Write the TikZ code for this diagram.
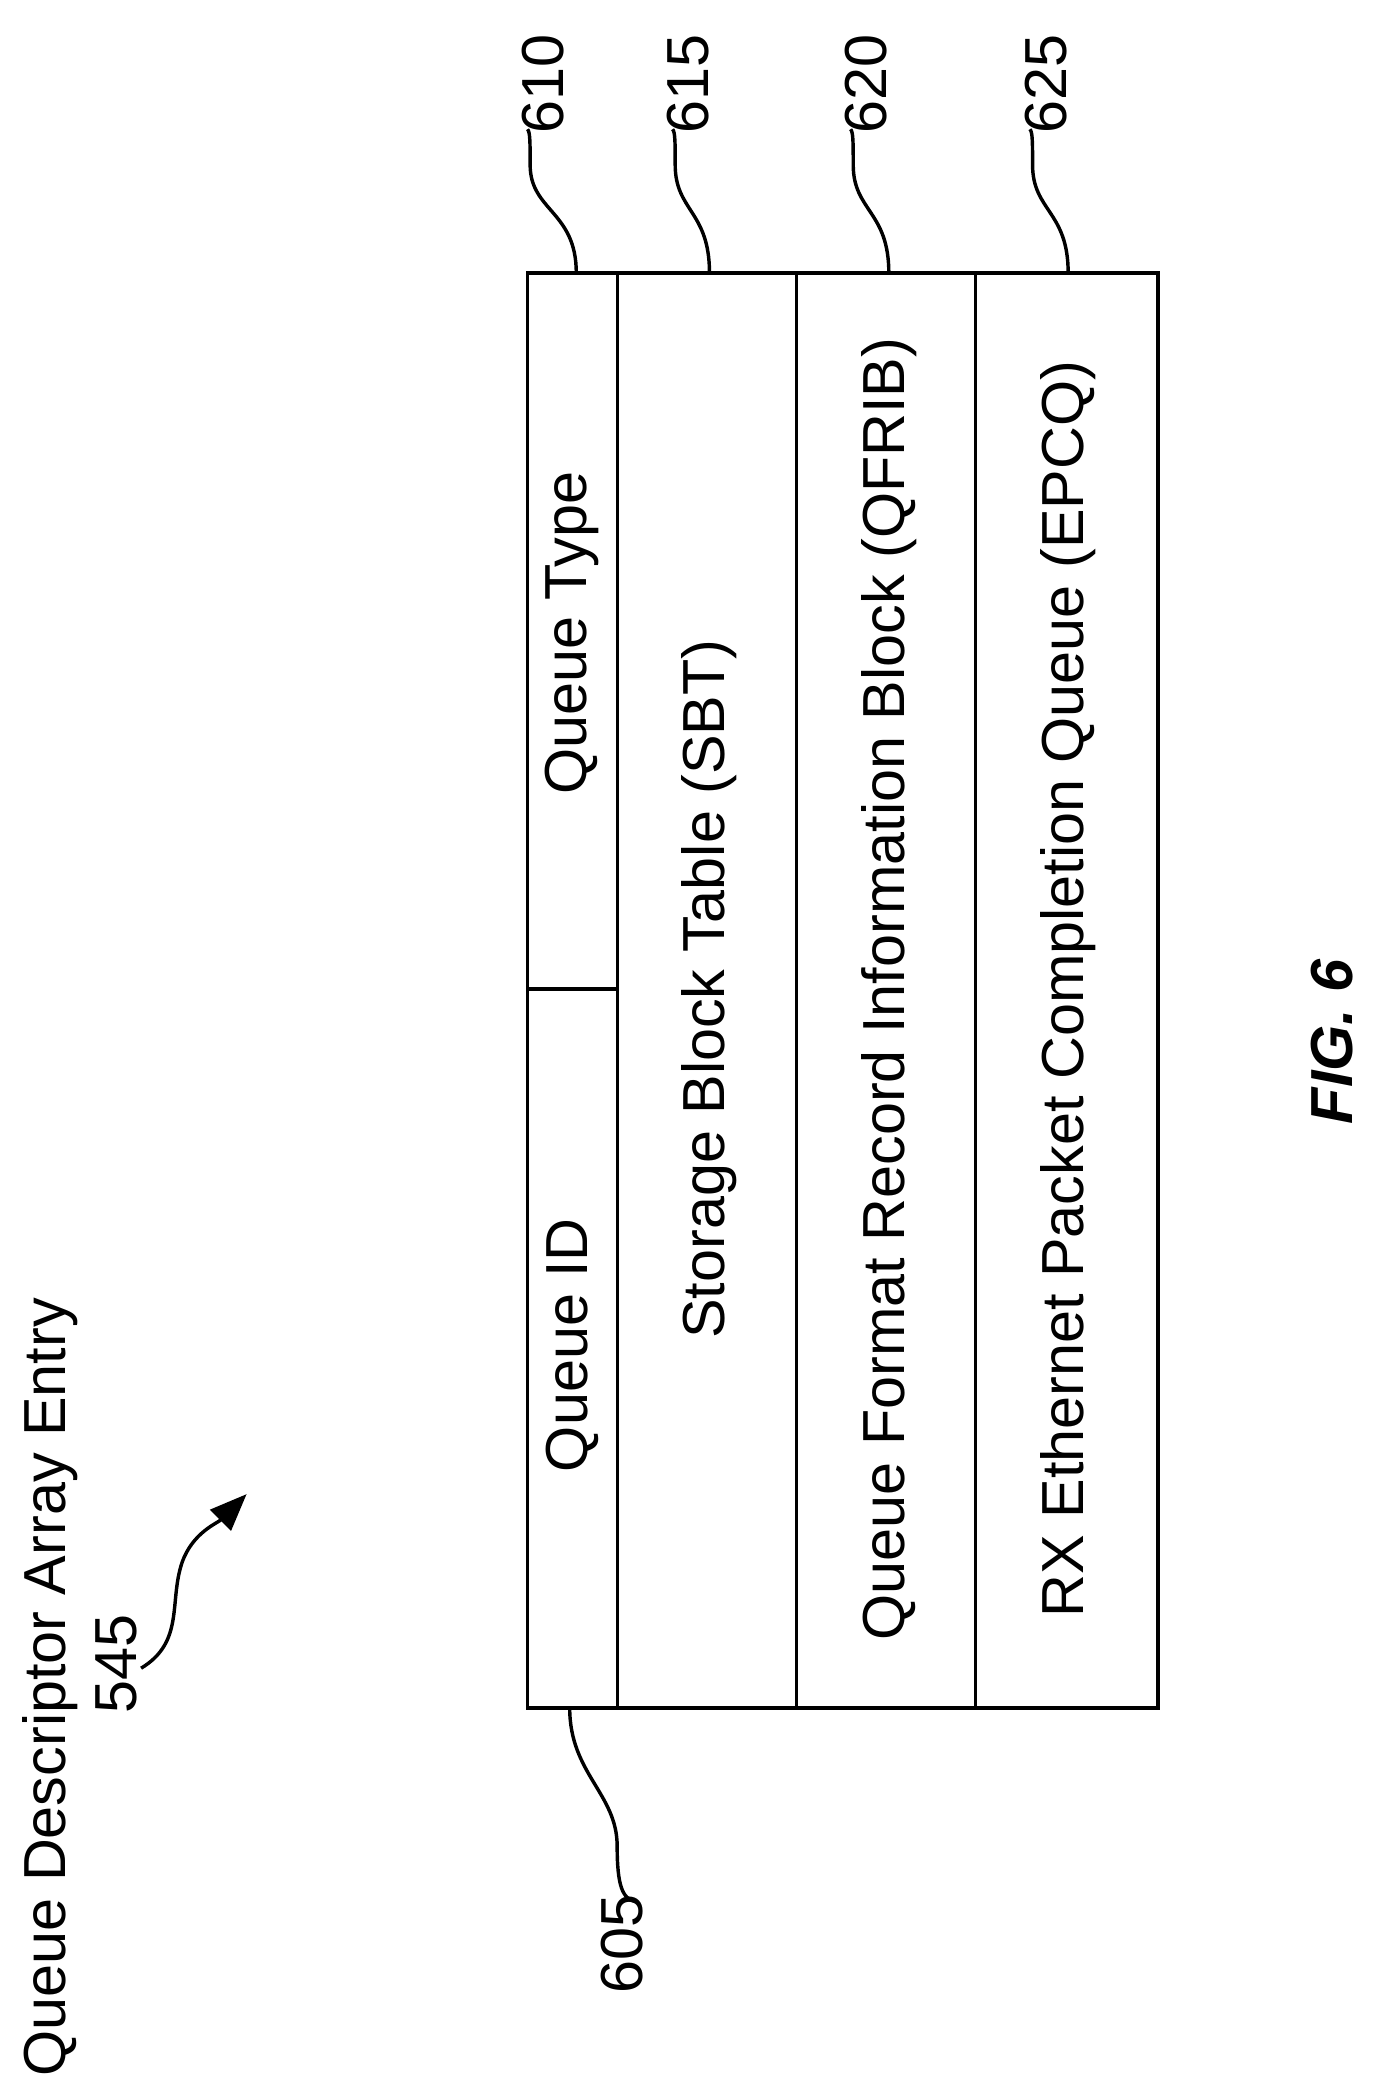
\documentclass[tikz,border=0pt]{standalone}
\usepackage{fontspec}
\setmainfont{Liberation Sans}
\usetikzlibrary{arrows.meta}
\begin{document}
\begin{tikzpicture}[x=0.5pt,y=-0.5pt,
  lbl/.style={font=\fontsize{22.5}{27}\selectfont,rotate=90,inner sep=0pt},
  lead/.style={line width=1.3pt}]
\useasboundingbox (0,0) rectangle (1045,1575);
\draw[line width=1.5pt] (400,207) rectangle (878,1295);
\draw[line width=1.2pt] (468,207) -- (468,1295) (604,207) -- (604,1295) (740,207) -- (740,1295) (400,750) -- (468,750);
\node[lbl] (qt) at (434,480) {Queue Type};
\node[lbl] (qid) at (434,1020) {Queue ID};
\node[lbl] (sbt) at (538,750) {Storage Block Table (SBT)};
\node[lbl] (qf) at (674,750) {Queue Format Record Information Block (QFRIB)};
\node[lbl] (ep) at (810,750) {RX Ethernet Packet Completion Queue (EPCQ)};
\node[lbl] (n610) at (412,64) {610};
\node[lbl] (n615) at (522,64) {615};
\node[lbl] (n620) at (657,64) {620};
\node[lbl] (n625) at (793,64) {625};
\node[lbl] (n605) at (472,1474) {605};
\coordinate (a610) at (437,207);
\coordinate (a615) at (538,207);
\coordinate (a620) at (674,207);
\coordinate (a625) at (810,207);
\coordinate (a605) at (432,1295);
\coordinate (e610) at (400,98);
\coordinate (e615) at (510,98);
\coordinate (e620) at (645,98);
\coordinate (e625) at (781,98);
\coordinate (e605) at (482,1442);
\draw[lead] (a610) .. controls (437,160) and (402,160) .. (402,125) .. controls (402,108) and (402,100) .. (e610);
\draw[lead] (a615) .. controls (538,160) and (512,160) .. (512,125) .. controls (512,108) and (512,100) .. (e615);
\draw[lead] (a620) .. controls (674,160) and (647,160) .. (647,125) .. controls (647,108) and (647,100) .. (e620);
\draw[lead] (a625) .. controls (810,160) and (783,160) .. (783,125) .. controls (783,108) and (783,100) .. (e625);
\draw[lead] (a605) .. controls (432,1345) and (468,1360) .. (468,1400) .. controls (468,1430) and (472,1440) .. (e605);
\node[lbl,anchor=west] (title) at (38,1575) {Queue Descriptor Array Entry};
\node[lbl] (n545) at (88,1262) {545};
\coordinate (s545) at (107,1265);
\coordinate (arr) at (187,1133);
\draw[lead,-{Triangle[length=14pt,width=11pt]}] (s545) .. controls (140,1245) and (128,1215) .. (138,1185) .. controls (146,1162) and (165,1155) .. (arr);
\node[lbl,font=\fontsize{22.5}{27}\selectfont\bfseries\itshape] (fig) at (1010,790) {FIG. 6};
\end{tikzpicture}
\end{document}
